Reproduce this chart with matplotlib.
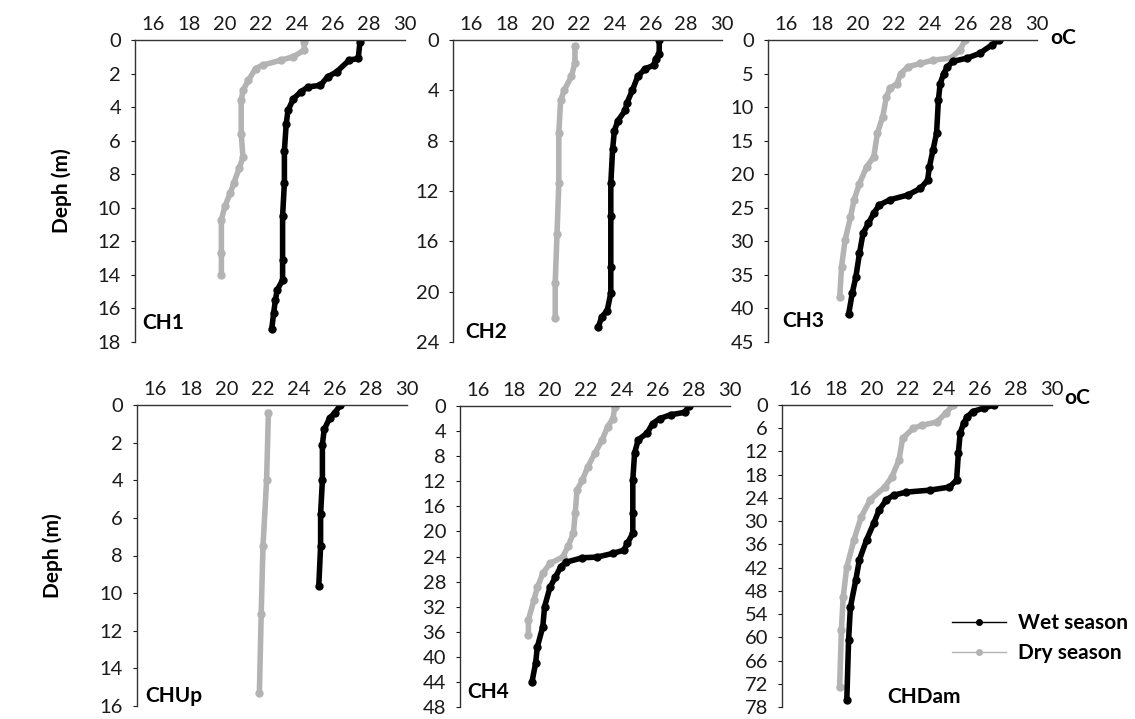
import matplotlib
matplotlib.use("Agg")
import matplotlib.pyplot as plt
from matplotlib.lines import Line2D

plt.rcParams['font.family'] = ['Lato', 'DejaVu Sans']

# temperature (oC) and depth (m) read from the profiles
ch1_wet_t = [27.5, 27.4, 26.9, 26.2, 25.7, 25.3, 24.6, 24.2, 23.8, 23.5, 23.4, 23.3, 23.3, 23.2, 23.2, 23.2, 22.9, 22.8, 22.7, 22.6]
ch1_wet_d = [0.1, 1.1, 1.2, 1.9, 2.2, 2.7, 2.8, 3.1, 3.5, 4.2, 5.0, 6.6, 8.5, 10.5, 13.1, 14.3, 14.9, 15.5, 16.3, 17.2]
ch1_dry_t = [24.4, 24.4, 23.8, 23.1, 22.1, 21.7, 21.3, 21.0, 20.9, 20.9, 21.0, 20.8, 20.5, 20.3, 20.0, 19.8, 19.8, 19.8]
ch1_dry_d = [0.1, 0.6, 1.0, 1.2, 1.5, 1.7, 2.4, 3.0, 3.6, 5.6, 7.0, 7.6, 8.5, 9.1, 9.9, 10.7, 12.7, 14.0]

ch2_wet_t = [26.5, 26.5, 26.3, 26.2, 25.7, 25.3, 25.0, 24.7, 24.6, 24.2, 24.0, 23.9, 23.8, 23.8, 23.8, 23.8, 23.6, 23.3, 23.1]
ch2_wet_d = [0.0, 1.1, 1.5, 2.0, 2.3, 2.9, 4.0, 5.0, 5.6, 6.4, 7.2, 8.7, 11.4, 14.0, 18.0, 20.1, 21.5, 22.0, 22.8]
ch2_dry_t = [21.8, 21.8, 21.6, 21.2, 21.0, 20.9, 20.9, 20.8, 20.7, 20.7]
ch2_dry_d = [0.5, 1.8, 2.9, 4.0, 4.8, 7.4, 11.4, 15.4, 19.3, 22.1]

ch3_wet_t = [27.9, 27.5, 26.8, 26.1, 25.3, 25.0, 24.8, 24.6, 24.5, 24.4, 24.2, 24.0, 23.9, 23.5, 22.8, 21.8, 21.2, 20.9, 20.6, 20.3, 20.1, 19.9, 19.7, 19.5]
ch3_wet_d = [0.0, 0.7, 2.0, 2.7, 3.2, 4.0, 5.0, 6.5, 9.0, 13.9, 16.4, 18.9, 20.9, 22.1, 23.1, 23.8, 24.6, 25.8, 27.3, 28.8, 31.8, 35.3, 37.7, 40.8]
ch3_dry_t = [26.0, 25.7, 25.2, 24.2, 23.5, 22.8, 22.4, 22.2, 21.8, 21.6, 21.4, 21.1, 20.9, 20.5, 20.1, 19.8, 19.6, 19.3, 19.1, 19.0]
ch3_dry_d = [0.0, 1.5, 2.7, 3.0, 3.5, 4.0, 5.0, 6.5, 7.2, 8.5, 11.4, 13.9, 17.4, 18.9, 21.4, 23.8, 26.4, 29.8, 33.8, 38.3]

chup_wet_t = [26.3, 26.0, 25.7, 25.4, 25.3, 25.3, 25.2, 25.2, 25.1]
chup_wet_d = [0.0, 0.4, 0.7, 1.3, 2.1, 4.0, 5.8, 7.5, 9.6]
chup_dry_t = [22.3, 22.2, 22.0, 21.9, 21.8]
chup_dry_d = [0.4, 4.0, 7.5, 11.1, 15.3]

ch4_wet_t = [27.7, 27.5, 26.7, 26.1, 25.7, 25.4, 24.9, 24.7, 24.6, 24.6, 24.6, 24.3, 24.1, 23.5, 22.6, 21.8, 20.9, 20.6, 20.3, 20.0, 19.7, 19.6, 19.3, 19.2, 19.0]
ch4_wet_d = [0.0, 1.0, 1.4, 2.0, 2.8, 4.3, 5.4, 7.5, 11.8, 17.1, 20.3, 21.9, 23.0, 23.5, 24.1, 24.2, 24.9, 25.6, 27.3, 28.9, 32.0, 35.2, 38.4, 41.0, 44.0]
ch4_dry_t = [23.6, 23.5, 23.2, 22.9, 22.5, 22.1, 21.8, 21.5, 21.4, 21.3, 21.0, 20.7, 20.0, 19.6, 19.3, 19.1, 18.8, 18.8]
ch4_dry_d = [0.1, 2.0, 3.3, 5.4, 7.5, 9.7, 11.8, 13.4, 17.1, 20.3, 22.4, 24.1, 25.1, 26.7, 28.9, 31.0, 34.1, 36.5]

chdam_wet_t = [26.8, 26.2, 25.6, 25.3, 25.1, 24.9, 24.8, 24.7, 24.3, 23.2, 21.9, 21.2, 20.8, 20.4, 20.1, 19.7, 19.3, 19.1, 18.8, 18.7, 18.6]
chdam_wet_d = [0.0, 0.8, 1.7, 3.0, 4.6, 7.2, 12.4, 19.4, 21.2, 22.0, 22.5, 23.3, 24.5, 27.1, 30.5, 34.8, 40.0, 45.2, 52.2, 60.7, 76.2]
chdam_dry_t = [24.5, 24.1, 23.6, 22.8, 22.3, 21.7, 21.5, 21.1, 20.7, 19.9, 19.4, 19.0, 18.6, 18.4, 18.3, 18.2]
chdam_dry_d = [0.0, 2.1, 4.4, 5.2, 6.0, 8.6, 14.2, 18.6, 21.2, 24.5, 28.9, 34.8, 41.8, 49.6, 58.1, 72.9]

x_ticks = [16, 18, 20, 22, 24, 26, 28, 30]

panels = [
    ("CH1", ch1_wet_t, ch1_wet_d, ch1_dry_t, ch1_dry_d, 18, 2),
    ("CH2", ch2_wet_t, ch2_wet_d, ch2_dry_t, ch2_dry_d, 24, 4),
    ("CH3", ch3_wet_t, ch3_wet_d, ch3_dry_t, ch3_dry_d, 45, 5),
    ("CHUp", chup_wet_t, chup_wet_d, chup_dry_t, chup_dry_d, 16, 2),
    ("CH4", ch4_wet_t, ch4_wet_d, ch4_dry_t, ch4_dry_d, 48, 4),
    ("CHDam", chdam_wet_t, chdam_wet_d, chdam_dry_t, chdam_dry_d, 78, 6),
]

# axes boxes in pixels (left, top, width, height), figure is 1135x719
boxes = [(135, 40, 270, 302), (453, 40, 269, 302), (768, 40, 269, 302),
         (137, 405, 270, 301), (460, 406, 270, 301), (782, 405, 270, 302)]
label_pos = [(0.026, 0.03), (0.045, 0.0), (0.052, 0.035),
             (0.03, 0.0), (0.026, 0.018), (0.39, 0.0)]

W, H = 1135, 719
fig = plt.figure(figsize=(W / 100, H / 100), dpi=100)

wet_color = 'black'
dry_color = '#b3b3b3'
tick_fs = 14.5
bold_fs = 15

for i, (name, wt, wd, dt, dd, dmax, dstep) in enumerate(panels):
    l, t, w, h = boxes[i]
    ax = fig.add_axes([l / W, (H - t - h) / H, w / W, h / H])
    ax.plot(dt, dd, '-o', color=dry_color, lw=4, ms=5)
    ax.plot(wt, wd, '-o', color=wet_color, lw=4, ms=5)
    ax.set_xlim(15, 30)
    ax.set_ylim(dmax, 0)
    ax.set_xticks(x_ticks)
    ax.set_yticks(range(0, dmax + 1, dstep))
    ax.xaxis.tick_top()
    ax.tick_params(axis='x', length=0, pad=5, labelsize=tick_fs, colors='#1a1a1a')
    ax.tick_params(axis='y', length=3, pad=7, labelsize=tick_fs, direction='out', colors='#1a1a1a')
    for s in ['right', 'bottom']:
        ax.spines[s].set_visible(False)
    for s in ['top', 'left']:
        ax.spines[s].set_color('#333333')
        ax.spines[s].set_linewidth(1)
    ax.text(label_pos[i][0], label_pos[i][1], name, transform=ax.transAxes,
            fontsize=bold_fs, fontweight='bold', ha='left', va='bottom')
    if i == 0:
        ax.set_ylabel('Deph (m)', fontsize=bold_fs, fontweight='bold')
        ax.yaxis.set_label_coords(-0.233, 0.5)
    if i == 3:
        ax.set_ylabel('Deph (m)', fontsize=bold_fs, fontweight='bold')
        ax.yaxis.set_label_coords(-0.274, 0.5)

fig.text(1050 / W, 1 - 38 / H, 'oC', fontsize=bold_fs, fontweight='bold', ha='left', va='center')
fig.text(1064 / W, 1 - 398 / H, 'oC', fontsize=bold_fs, fontweight='bold', ha='left', va='center')

handles = [Line2D([], [], color=wet_color, lw=1, marker='o', ms=4),
           Line2D([], [], color=dry_color, lw=1, marker='o', ms=4)]
fig.legend(handles, ['Wet season', 'Dry season'], loc='center left',
           bbox_to_anchor=(935 / W, 1 - 638 / H), frameon=False, numpoints=1,
           handlelength=2.6, handletextpad=0.6, labelspacing=0.5,
           borderpad=0.3, prop={'size': 15, 'weight': 'bold'})

fig.savefig('out.png', dpi=100)
